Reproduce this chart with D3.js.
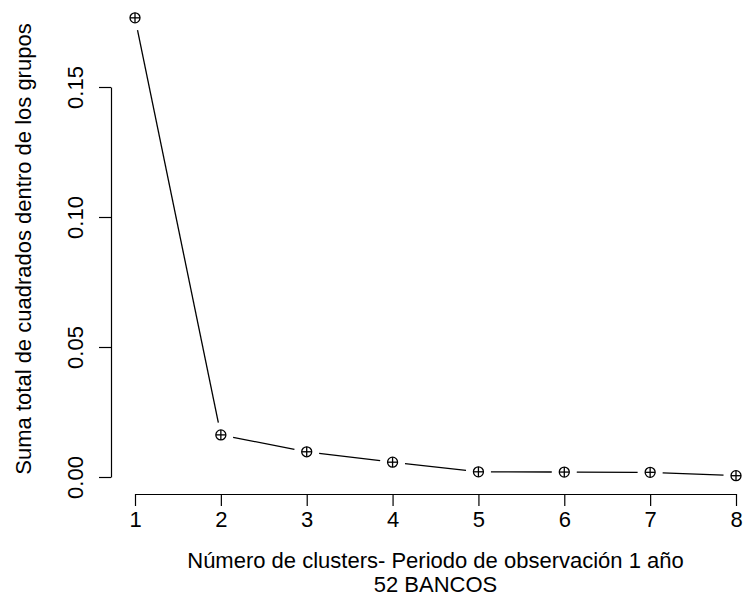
<!DOCTYPE html>
<html>
<head>
<meta charset="utf-8">
<script src="https://cdn.jsdelivr.net/npm/d3@7"></script>
<style>
  html, body { margin: 0; padding: 0; background: #fff; }
  svg { display: block; font-family: "Liberation Sans", Arial, Helvetica, sans-serif; }
</style>
</head>
<body>
<svg id="chart" width="743" height="596"></svg>
<script>
// Number of clusters and within-group sum of squares (elbow curve)
const clusters = [1, 2, 3, 4, 5, 6, 7, 8];
const withinSS = [0.1766, 0.0162, 0.0097, 0.0057, 0.0020, 0.0019, 0.0018, 0.0005];
const xTicks = [1, 2, 3, 4, 5, 6, 7, 8];
const yTicks = [0.00, 0.05, 0.10, 0.15];
const xTitle = ["Número de clusters- Periodo de observación 1 año", "52 BANCOS"];
const yTitle = "Suma total de cuadrados dentro de los grupos";

const svg = d3.select("#chart");
const fontSize = 22;

const x = d3.scaleLinear().domain([1, 8]).range([135, 736]);
const y = d3.scaleLinear().domain([0, 0.15]).range([477, 87]);

const xAxisY = 494;
const yAxisX = 111;

// x axis
const gx = svg.append("g")
  .attr("transform", `translate(0,${xAxisY})`)
  .call(d3.axisBottom(x).tickValues(xTicks).tickSize(12).tickSizeOuter(0).tickPadding(5)
    .tickFormat(d3.format("d")));
gx.select(".domain").attr("stroke", "#000").attr("stroke-width", 1.2);
gx.selectAll(".tick line").attr("stroke", "#000").attr("stroke-width", 1.2);
gx.selectAll(".tick text").attr("font-size", fontSize).attr("fill", "#000")
  .attr("font-family", null).attr("dy", "0.72em");

// y axis with rotated labels
const gy = svg.append("g")
  .attr("transform", `translate(${yAxisX},0)`)
  .call(d3.axisLeft(y).tickValues(yTicks).tickSize(12).tickSizeOuter(0)
    .tickFormat(d3.format(".2f")));
gy.select(".domain").attr("stroke", "#000").attr("stroke-width", 1.2);
gy.selectAll(".tick line").attr("stroke", "#000").attr("stroke-width", 1.2);
gy.selectAll(".tick text")
  .attr("font-size", fontSize).attr("fill", "#000").attr("font-family", null)
  .attr("x", null).attr("dy", null)
  .attr("text-anchor", "middle")
  .attr("transform", "translate(-28,0) rotate(-90)");

// line segments between consecutive points, with gaps around each marker
const pts = clusters.map((c, i) => [x(c), y(withinSS[i])]);
const gap = 12.5;
const segs = [];
for (let i = 0; i < pts.length - 1; i++) {
  const [x1, y1] = pts[i], [x2, y2] = pts[i + 1];
  const len = Math.hypot(x2 - x1, y2 - y1);
  if (len <= 2 * gap) continue;
  const ux = (x2 - x1) / len, uy = (y2 - y1) / len;
  segs.push([x1 + ux * gap, y1 + uy * gap, x2 - ux * gap, y2 - uy * gap]);
}
svg.append("g").selectAll("line").data(segs).join("line")
  .attr("x1", d => d[0]).attr("y1", d => d[1])
  .attr("x2", d => d[2]).attr("y2", d => d[3])
  .attr("stroke", "#000").attr("stroke-width", 1.3);

// circle-plus markers
const r = 5;
const mk = svg.append("g").selectAll("g").data(clusters).join("g")
  .attr("transform", (c, i) => `translate(${x(c)},${y(withinSS[i])})`);
mk.append("circle").attr("r", r).attr("fill", "none").attr("stroke", "#000").attr("stroke-width", 1.3);
mk.append("line").attr("x1", -r).attr("x2", r).attr("stroke", "#000").attr("stroke-width", 1.3);
mk.append("line").attr("y1", -r).attr("y2", r).attr("stroke", "#000").attr("stroke-width", 1.3);

// axis titles
const cx = (x.range()[0] + x.range()[1]) / 2;
svg.append("g").selectAll("text").data(xTitle).join("text")
  .attr("x", cx).attr("y", (d, i) => 568 + i * 24)
  .attr("text-anchor", "middle").attr("font-size", fontSize).attr("fill", "#000")
  .text(d => d);

svg.append("text")
  .attr("transform", `translate(31,249) rotate(-90)`)
  .attr("text-anchor", "middle").attr("font-size", fontSize).attr("fill", "#000")
  .text(yTitle);
</script>
</body>
</html>
